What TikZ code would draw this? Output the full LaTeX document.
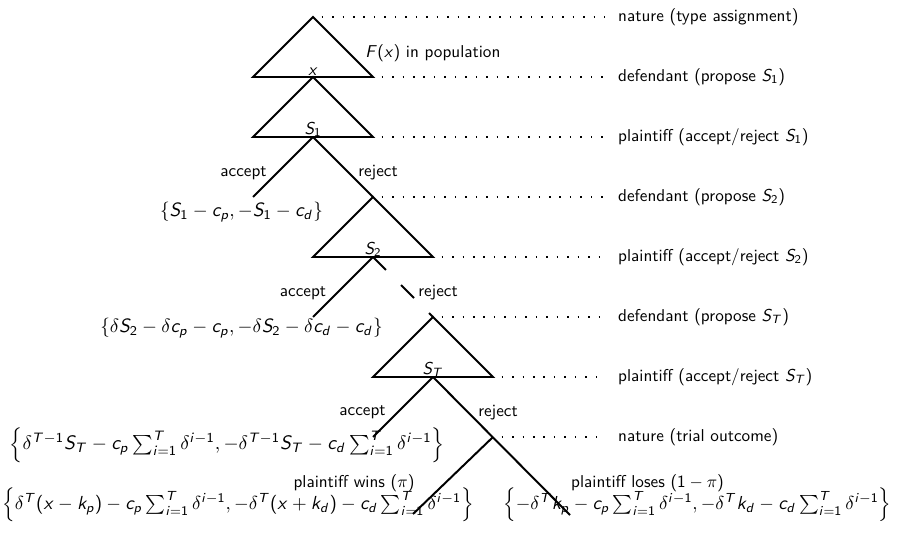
\documentclass[tikz,border=0pt]{standalone}
\usetikzlibrary{calc}
\renewcommand\familydefault{\sfdefault}
\DeclareSymbolFont{sfit}{OT1}{cmss}{m}{sl}
\SetSymbolFont{operators}{normal}{OT1}{cmss}{m}{n}
\DeclareMathSymbol{S}{\mathalpha}{sfit}{`S}
\DeclareMathSymbol{T}{\mathalpha}{sfit}{`T}
\DeclareMathSymbol{F}{\mathalpha}{sfit}{`F}
\DeclareMathSymbol{c}{\mathalpha}{sfit}{`c}
\DeclareMathSymbol{d}{\mathalpha}{sfit}{`d}
\DeclareMathSymbol{p}{\mathalpha}{sfit}{`p}
\DeclareMathSymbol{x}{\mathalpha}{sfit}{`x}
\DeclareMathSymbol{k}{\mathalpha}{sfit}{`k}
\DeclareMathSymbol{i}{\mathalpha}{sfit}{`i}
\begin{document}
\begin{tikzpicture}[x=0.583pt,y=-0.583pt,
  branch/.style={line width=1.15pt},
  dotline/.style={line width=0.9pt, dash pattern=on 0.9pt off 5.2pt},
  dashbranch/.style={line width=1.15pt, dash pattern=on 10.7pt off 12.4pt},
  rowlab/.style={anchor=west, inner sep=0pt},
  edgelab/.style={inner sep=0pt},
  tri/.style={anchor=base, inner sep=0pt},
  payoff/.style={inner sep=0pt}]
\useasboundingbox (0,0) rectangle (900,541);
% decision nodes
\coordinate (n0) at (313,17);
\coordinate (d1) at (313,77);
\coordinate (p1) at (313,137);
\coordinate (a1) at (253,197);
\coordinate (d2) at (373,197);
\coordinate (p2) at (373,257);
\coordinate (a2) at (313,317);
\coordinate (dT) at (433,317);
\coordinate (pT) at (433,377);
\coordinate (aT) at (373,437);
\coordinate (nT) at (493,437);
\coordinate (w) at (413,514);
\coordinate (l) at (570,515);
% triangle corners
\coordinate (t0l) at (253,77);  \coordinate (t0r) at (373,77);
\coordinate (t1l) at (253,137); \coordinate (t1r) at (373,137);
\coordinate (t2l) at (313,257); \coordinate (t2r) at (433,257);
\coordinate (t3l) at (373,377); \coordinate (t3r) at (493,377);
% triangles
\draw[branch] (n0) -- (t0l) -- (t0r) -- cycle;
\draw[branch] (d1) -- (t1l) -- (t1r) -- cycle;
\draw[branch] (d2) -- (t2l) -- (t2r) -- cycle;
\draw[branch] (dT) -- (t3l) -- (t3r) -- cycle;
% branches
\draw[branch] (p1) -- (a1);
\draw[branch] (p1) -- (d2);
\draw[branch] (p2) -- (a2);
\draw[dashbranch] (p2) -- (dT);
\draw[branch] (pT) -- (aT);
\draw[branch] (pT) -- (l);
\draw[branch] (nT) -- (w);
% triangle labels
\node[tri] (lx) at (313,75) {$x$};
\node[tri] (ls1) at (313,134) {$S_1$};
\node[tri] (ls2) at (373,254) {$S_2$};
\node[tri] (lst) at (433,374) {$S_T$};
\node[anchor=west, inner sep=0pt] (fx) at (365,53) {$F(x)$ in population};
% edge labels
\node[edgelab] (ea1) at (243.5,173) {accept};
\node[edgelab] (er1) at (378,173) {reject};
\node[edgelab] (ea2) at (303,293) {accept};
\node[edgelab] (er2) at (438,293) {reject};
\node[edgelab] (ea3) at (362.5,412) {accept};
\node[edgelab] (er3) at (498,413) {reject};
\node[edgelab] (ew) at (354,483) {plaintiff wins $(\pi)$};
\node[edgelab] (el) at (647.5,483) {plaintiff loses $(1-\pi)$};
% payoffs
\node[payoff] (u1) at (241.5,212) {\scalebox{1.12}{$\left\{S_1-c_p,-S_1-c_d\right\}$}};
\node[payoff, anchor=east] (u2) at (383,328) {\scalebox{1.12}{$\left\{\delta S_2-\delta c_p-c_p,-\delta S_2-\delta c_d-c_d\right\}$}};
\node[payoff, anchor=east] (u3) at (445,445) {\scalebox{1.135}{$\left\{\delta^{T-1}S_T-c_p\sum_{i=1}^T\delta^{i-1},-\delta^{T-1}S_T-c_d\sum_{i=1}^T\delta^{i-1}\right\}$}};
\node[payoff, anchor=east] (u4) at (474,505) {\scalebox{1.1}{$\left\{\delta^T(x-k_p)-c_p\sum_{i=1}^T\delta^{i-1},-\delta^T(x+k_d)-c_d\sum_{i=1}^T\delta^{i-1}\right\}$}};
\node[payoff, anchor=west] (u5) at (503,505) {\scalebox{1.095}{$\left\{-\delta^T k_p-c_p\sum_{i=1}^T\delta^{i-1},-\delta^T k_d-c_d\sum_{i=1}^T\delta^{i-1}\right\}$}};
% row guides
\coordinate (e0) at (605,17);
\coordinate (e1) at (605,77);
\coordinate (e2) at (605,137);
\coordinate (e3) at (605,197);
\coordinate (e4) at (605,257);
\coordinate (e5) at (605,317);
\coordinate (e6) at (605,377);
\coordinate (e7) at (605,437);
\draw[dotline] ([xshift=5pt]n0) -- (e0);
\draw[dotline] ([xshift=5pt]t0r) -- (e1);
\draw[dotline] ([xshift=5pt]t1r) -- (e2);
\draw[dotline] ([xshift=5pt]d2) -- (e3);
\draw[dotline] ([xshift=5pt]t2r) -- (e4);
\draw[dotline] ([xshift=5pt]dT) -- (e5);
\draw[dotline] ([xshift=5pt]t3r) -- (e6);
\draw[dotline] ([xshift=5pt]nT) -- (e7);
\node[rowlab] (r0) at ([xshift=7.5pt]e0) {nature (type assignment)};
\node[rowlab] (r1) at ([xshift=7.5pt]e1) {defendant (propose $S_1$)};
\node[rowlab] (r2) at ([xshift=7.5pt]e2) {plaintiff (accept/reject $S_1$)};
\node[rowlab] (r3) at ([xshift=7.5pt]e3) {defendant (propose $S_2$)};
\node[rowlab] (r4) at ([xshift=7.5pt]e4) {plaintiff (accept/reject $S_2$)};
\node[rowlab] (r5) at ([xshift=7.5pt]e5) {defendant (propose $S_T$)};
\node[rowlab] (r6) at ([xshift=7.5pt]e6) {plaintiff (accept/reject $S_T$)};
\node[rowlab] (r7) at ([xshift=7.5pt]e7) {nature (trial outcome)};
\end{tikzpicture}
\end{document}
